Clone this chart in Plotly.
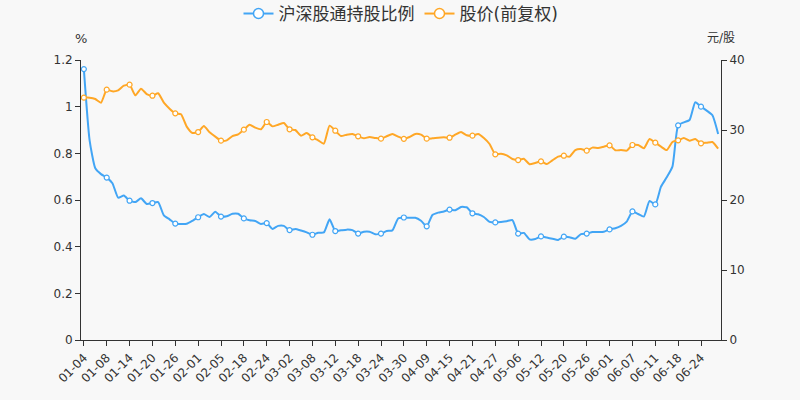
import plotly.graph_objects as go

dates = ["01-04","01-05","01-06","01-07","01-08","01-11","01-12","01-13","01-14","01-15",
         "01-18","01-19","01-20","01-21","01-22","01-25","01-26","01-27","01-28","01-29",
         "02-01","02-02","02-03","02-04","02-05","02-08","02-09","02-10","02-18","02-19",
         "02-22","02-23","02-24","02-25","02-26","03-01","03-02","03-03","03-04","03-05",
         "03-08","03-09","03-10","03-11","03-12","03-15","03-16","03-17","03-18","03-19",
         "03-22","03-23","03-24","03-25","03-26","03-29","03-30","03-31","04-01","04-08",
         "04-09","04-12","04-13","04-14","04-15","04-16","04-19","04-20","04-21","04-22",
         "04-23","04-26","04-27","04-28","04-29","04-30","05-06","05-07","05-10","05-11",
         "05-12","05-13","05-14","05-18","05-20","05-21","05-24","05-25","05-26","05-27",
         "05-28","05-31","06-01","06-02","06-03","06-04","06-07","06-08","06-09","06-10",
         "06-11","06-15","06-16","06-17","06-18","06-21","06-22","06-23","06-24","06-25",
         "06-28","06-29"]

hold_ratio = [1.161, 0.857, 0.736, 0.711, 0.696, 0.672, 0.610, 0.619, 0.597, 0.591, 0.607, 0.583, 0.587, 0.591,
              0.534, 0.517, 0.499, 0.497, 0.498, 0.511, 0.526, 0.540, 0.527, 0.550, 0.529, 0.530, 0.541, 0.541,
              0.521, 0.513, 0.510, 0.497, 0.501, 0.476, 0.489, 0.489, 0.471, 0.476, 0.469, 0.461, 0.451, 0.460,
              0.461, 0.517, 0.467, 0.470, 0.473, 0.471, 0.456, 0.464, 0.464, 0.453, 0.456, 0.467, 0.470, 0.521,
              0.525, 0.524, 0.524, 0.511, 0.487, 0.536, 0.546, 0.551, 0.559, 0.556, 0.570, 0.569, 0.543, 0.539,
              0.527, 0.506, 0.504, 0.506, 0.509, 0.514, 0.456, 0.459, 0.431, 0.433, 0.444, 0.439, 0.434, 0.429,
              0.443, 0.440, 0.434, 0.454, 0.456, 0.463, 0.463, 0.464, 0.474, 0.479, 0.489, 0.507, 0.551, 0.540,
              0.529, 0.596, 0.581, 0.657, 0.697, 0.743, 0.920, 0.933, 0.943, 1.019, 1.000, 0.983, 0.963, 0.883]

price = [34.62, 34.62, 34.43, 33.90, 35.76, 35.52, 35.67, 36.33, 36.48, 34.95, 35.90, 35.14, 34.90, 35.24,
         33.90, 33.05, 32.38, 32.24, 30.48, 29.57, 29.71, 30.57, 29.67, 29.05, 28.48, 28.52, 29.14, 29.38,
         30.05, 30.76, 30.33, 30.10, 31.14, 30.52, 30.76, 31.00, 30.10, 30.00, 29.19, 29.57, 28.95, 28.52,
         28.05, 30.62, 29.90, 29.14, 29.33, 29.43, 29.10, 28.81, 29.00, 28.86, 28.76, 29.10, 29.43, 29.05,
         28.74, 29.00, 29.43, 29.33, 28.76, 28.81, 28.90, 28.95, 28.90, 29.33, 29.71, 29.24, 29.19, 29.43,
         28.86, 28.00, 26.52, 26.62, 26.38, 25.86, 25.71, 25.90, 25.10, 25.29, 25.52, 25.14, 25.67, 26.19,
         26.33, 26.19, 27.14, 27.29, 27.05, 27.48, 27.43, 27.62, 27.81, 27.10, 27.14, 27.05, 27.86, 27.86,
         27.38, 28.71, 28.19, 27.62, 27.14, 28.29, 28.52, 28.86, 28.48, 28.71, 28.10, 28.19, 28.29, 27.33]

series_names = ["沪深股通持股比例", "股价(前复权)"]
tick_labels = dates[::4]

BLUE = "#42a5f5"
ORANGE = "#ffa726"
BG = "#f8f8f8"
FONT = "DejaVu Sans, Noto Sans CJK SC, sans-serif"

fig = go.Figure()

def add_series(x, y, color, name, axis):
    fig.add_trace(go.Scatter(x=x, y=y, mode="lines", yaxis=axis, showlegend=False,
                             line=dict(color=color, width=2, shape="spline", smoothing=0.5),
                             hoverinfo="skip"))
    fig.add_trace(go.Scatter(x=x[::4], y=y[::4], mode="markers", yaxis=axis, showlegend=False,
                             marker=dict(symbol="circle", size=5, color="white",
                                         line=dict(color=color, width=1.2)),
                             hoverinfo="skip"))
    fig.add_trace(go.Scatter(x=[None], y=[None], mode="lines+markers", yaxis=axis, name=name,
                             line=dict(color=color, width=2),
                             marker=dict(symbol="circle", size=10, color="white",
                                         line=dict(color=color, width=1.5))))

add_series(dates, hold_ratio, BLUE, series_names[0], "y")
add_series(dates, price, ORANGE, series_names[1], "y2")

axis_common = dict(showgrid=False, zeroline=False, showline=True, linecolor="#333333",
                   linewidth=1, ticks="outside", ticklen=5, tickcolor="#333333",
                   tickfont=dict(size=12, color="#333333", family=FONT))

fig.update_layout(
    width=800, height=400,
    margin=dict(l=81, r=79, t=60, b=60),
    paper_bgcolor=BG, plot_bgcolor=BG,
    font=dict(family=FONT, color="#333333"),
    xaxis=dict(type="category", categoryorder="array", categoryarray=dates,
               range=[-0.5, len(dates) - 0.5], tickmode="array", tickvals=tick_labels,
               ticktext=tick_labels, tickangle=-45, **axis_common),
    yaxis=dict(range=[0, 1.2], dtick=0.2, tick0=0, **axis_common),
    yaxis2=dict(range=[0, 40], dtick=10, tick0=0, overlaying="y", side="right", **axis_common),
    legend=dict(orientation="h", x=0.5, xanchor="center", y=0.965, yanchor="middle",
                yref="container", font=dict(size=17, color="#333333", family=FONT),
                bgcolor="rgba(0,0,0,0)", itemwidth=30),
    annotations=[
        dict(text="%", x=0, xref="paper", xanchor="center", y=1 + 22 / 280, yref="paper",
             yanchor="middle", showarrow=False, font=dict(size=13, color="#333333")),
        dict(text="元/股", x=1, xref="paper", xanchor="center", y=1 + 22 / 280, yref="paper",
             yanchor="middle", showarrow=False, font=dict(size=12, color="#333333")),
    ],
)

fig.write_html("out.html")
